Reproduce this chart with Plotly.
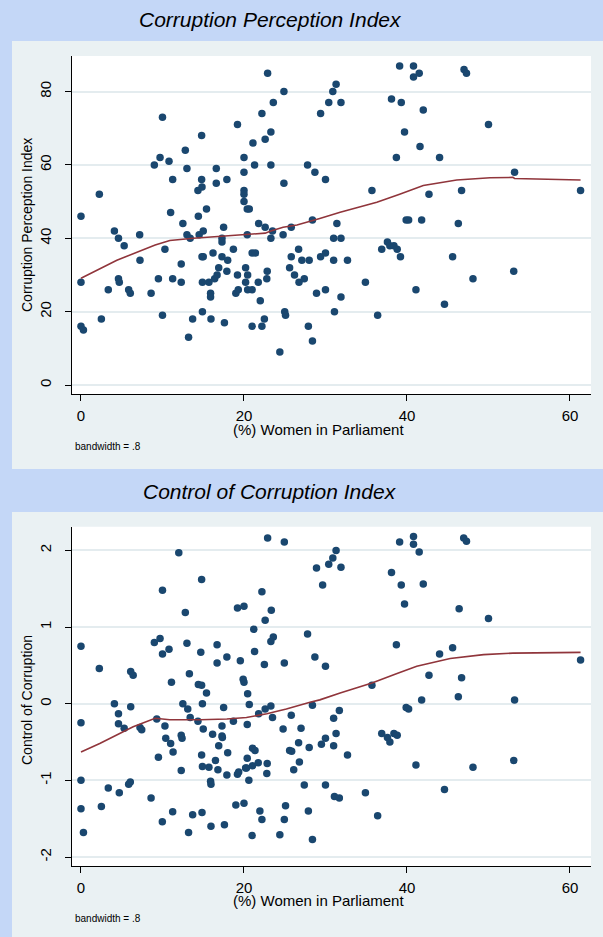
import plotly.graph_objects as go

W, H = 603, 937

# ---------------- data: Corruption Perception Index panel ----------------
women_cpi = [0, 2.25, 4.1, 7.2, 9.0, 9.7, 10.0, 10.8, 11.25, 11.0, 12.5, 12.8, 13.0, 13.0, 14.4,
             14.35, 14.5, 14.8, 14.85, 14.8, 15.0, 15.4, 16.6, 16.6, 17.5, 17.9, 19.2, 20.0, 20.0,
             20.0, 20.0, 20.0, 20.4, 20.65, 20.4, 21.1, 21.3, 21.8, 22.2, 22.6, 22.6, 22.9, 23.3,
             23.3, 23.5, 23.6, 24.9, 24.9, 24.8, 25.8, 27.8, 28.7, 28.4, 29.4,
             31.3, 30.9, 30.4, 31.9, 30.0, 31.4, 35.7, 38.1, 39.1, 39.3, 39.7, 38.7, 40.8, 41.5,
             40.8, 42.0, 41.6, 44.0, 42.7, 39.9, 40.2, 41.8, 46.3, 46.7, 47.0, 47.3, 50.0, 53.2, 61.3,
             4.6, 0, 0, 0.3, 2.5, 3.35, 4.6, 4.7, 5.3, 5.85, 6.05, 7.24, 8.6, 9.5, 10.0, 10.3, 11.25,
             12.3, 12.3, 13.2, 13.7, 13.4, 14.85, 15.0, 14.9, 14.9, 15.7, 15.9, 15.9, 15.95, 16.2,
             16.4, 16.7, 16.9, 17.3, 17.3, 17.3, 18.0, 17.9, 17.6, 18.7, 19.2, 19.0, 19.3, 20.2, 20.2,
             20.45, 20.45, 21.0, 21.0, 21.4, 21.0, 21.75, 22.0, 22.2, 22.5, 22.8, 22.85, 23.3, 24.4,
             25.0, 25.1, 25.8, 25.6, 26.2, 26.7, 26.75, 27.4, 27.1, 28.0, 27.9, 28.4, 28.9, 29.4,
             31.0, 31.9, 31.0, 30.0, 32.7, 30.0, 31.9, 31.1, 34.9, 36.4, 36.9, 37.6, 37.9, 38.4,
             38.8, 39.2, 41.1, 44.6, 45.6, 48.1, 53.1]
cpi = [46, 52, 42, 41, 60, 62, 73, 61, 56, 47, 44, 64, 59, 41, 46, 53, 41, 56, 54, 68, 42, 48, 59,
       55, 43, 56, 71, 62, 58, 53, 52, 50, 48, 48, 41, 66, 60, 44, 74, 67, 43, 85, 69, 60, 42, 77,
       80, 55, 41, 43, 60, 58, 45, 74,
       82, 80, 77, 77, 56, 44, 53, 78, 87, 77, 69, 62, 87, 85, 84, 75, 65, 62, 52, 45, 45, 45, 44,
       53, 86, 85, 71, 58, 53,
       40, 28, 16, 15, 18, 26, 29, 28, 38, 26, 25, 34, 25, 29, 19, 37, 29, 33, 28, 13, 18, 40, 35,
       35, 20, 28, 28, 25, 24, 18, 36, 29, 30, 32, 40, 39, 35, 34, 31, 17, 37, 30, 25, 26, 32, 28,
       30, 26, 26, 36, 36, 16, 28, 23, 16, 18, 29, 31, 40, 9, 20, 19, 35, 32, 30, 37, 28, 29, 34,
       34, 16, 12, 25, 35,
       40, 40, 34, 36, 34, 26, 24, 20, 28, 19, 37, 39, 38, 38, 37, 35, 26, 22, 35, 29, 31]

lowess_cpi_x = [0, 4.4, 9.1, 10.9, 13.8, 17.1, 20.3, 22.6, 23.3, 24.8, 26.5, 28.2, 29.3, 31.8,
                36.3, 39.1, 42.0, 46.1, 50.2, 53.0, 53.2, 61.3]
lowess_cpi_y = [29.1, 34.0, 38.2, 39.4, 40.0, 40.5, 40.9, 41.4, 42.0, 43.0, 43.6, 44.6, 45.4, 47.1,
                49.8, 52.0, 54.4, 55.9, 56.5, 56.6, 56.3, 55.9]

# ---------------- data: Control of Corruption panel ----------------
women_cc = [0, 2.25, 6.1, 6.4, 9.0, 9.7, 10.0, 10.0, 10.8, 11.1, 12.0, 12.8, 13.0, 13.3, 14.8, 14.7,
            14.4, 14.8, 15.4, 16.7, 16.7, 17.9, 19.2, 20.0, 19.55, 19.9, 20.0, 20.45, 21.2, 21.3,
            22.2, 22.6, 22.5, 22.9, 23.35, 23.6, 23.3, 24.95, 24.95, 27.8, 28.7, 28.9,
            0, 0, 0, 0.3, 2.5, 3.35, 4.1, 4.6, 4.6, 5.3, 4.7, 5.85, 6.05, 6.1, 7.24, 7.45, 8.6,
            12.5, 14.9, 20.65, 17.5, 13.1, 13.4, 9.3, 21.8, 22.6, 23.3, 23.5, 25.8, 28.4, 31.0, 31.7,
            14.35, 10.3, 18.7, 17.3, 20.4, 15.0, 16.15, 17.3, 17.35, 12.3, 12.4, 10.4, 11.0, 11.3,
            16.9, 18.0, 14.8, 9.5, 24.8, 27.0, 26.7, 28.0, 25.6, 25.85, 21.05, 21.35, 30.0, 29.5,
            31.3, 31.0, 20.4, 16.5, 14.9, 15.7, 16.8, 17.9, 12.3, 15.9, 15.95, 19.2, 19.35, 20.2,
            20.3, 20.6, 21.05, 21.75, 22.85, 22.8, 26.1, 26.8, 27.4, 30.0, 31.1, 31.7,
            11.25, 13.7, 14.85, 9.98, 13.2, 15.95, 17.6, 19.0, 20.0, 21.0, 21.95, 22.2, 24.4, 25.1,
            24.95, 27.9, 28.4,
            29.65, 30.4, 30.9, 31.3, 31.9, 30.0, 35.7, 38.1, 39.1, 39.3, 39.7, 38.7, 40.8, 40.8,
            41.5, 42.0, 44.0, 45.6, 42.7, 46.7, 41.8, 46.3, 46.4, 46.96, 47.3, 50.0, 53.2, 61.3,
            32.7, 34.9, 36.4, 36.9, 37.6, 37.9, 38.4, 38.8, 39.9, 40.2, 41.1, 44.6, 48.1, 53.1]
cc = [0.75, 0.46, 0.42, 0.37, 0.80, 0.85, 1.48, 0.65, 0.71, 0.28, 1.97, 1.19, 0.79, 0.39, 1.62,
      0.67, 0.25, 0.24, 0.14, 0.77, 0.53, 0.61, 1.25, 1.27, 0.56, 0.32, 0.28, 0.13, 0.97, 0.68,
      1.46, 1.09, 0.51, 2.16, 1.22, 0.87, 0.81, 2.11, 0.53, 0.91, 0.61, 1.77,
      -0.25, -1.0, -1.37, -1.68, -1.34, -1.10, 0.0, -0.13, -0.26, -0.32, -1.16, -1.05, -1.02,
      -0.04, -0.31, -0.34, -1.23,
      0.0, 0.0, -0.01, -0.05, -0.07, -0.18, -0.2, -0.13, -0.07, -0.03, -0.18, -0.15, -0.02,
      -0.19, -0.09, -0.23, -0.29, -0.23, -0.29, -0.27, -0.33, -0.40, -0.42, -0.44, -0.41, -0.45,
      -0.45, -0.52, -0.63, -0.55, -0.64, -0.67, -0.70, -0.33, -0.32, -0.51, -0.57, -0.61, -0.62,
      -0.58, -0.61, -0.45, -0.53, -0.39, -0.55, -0.71, -0.74, -0.82, -0.83, -0.86, -0.93, -0.87,
      -1.01, -1.05, -0.92, -0.89, -0.84, -0.84, -1.0, -0.81, -0.77, -0.78, -0.91, -0.86, -0.76,
      -1.06, -1.06, -1.21, -1.23,
      -1.41, -1.45, -1.42, -1.54, -1.68, -1.6, -1.58, -1.32, -1.30, -1.72, -1.40, -1.51, -1.71,
      -1.33, -1.51, -1.40, -1.77,
      1.55, 1.82, 1.90, 2.0, 1.78, 0.49, 0.24, 1.71, 2.11, 1.55, 1.30, 0.77, 2.18, 2.08, 1.98,
      1.56, 0.65, 0.73, 0.37, 0.34, 0.05, 0.09, 1.24, 2.16, 2.12, 1.11, 0.05, 0.57,
      -0.67, -1.16, -1.46, -0.39, -0.44, -0.50, -0.39, -0.41, -0.05, -0.07, -0.80, -1.12, -0.83,
      -0.74]

lowess_cc_x = [0, 2.3, 6.4, 9.1, 10.9, 14.6, 17.9, 20.3, 22.8, 25.2, 28.1, 29.3, 31.8, 35.7,
               38.7, 41.2, 45.3, 49.4, 53.0, 61.3]
lowess_cc_y = [-0.63, -0.52, -0.30, -0.19, -0.21, -0.21, -0.20, -0.18, -0.13, -0.07, 0.02, 0.05,
               0.14, 0.27, 0.39, 0.49, 0.59, 0.64, 0.66, 0.67]

x_ticks = [0, 20, 40, 60]
cpi_ticks = [0, 20, 40, 60, 80]
cc_ticks = [-2, -1, 0, 1, 2]

titles = ["Corruption Perception Index", "Control of Corruption Index"]
ytitles = ["Corruption Perception Index", "Control of Corruption"]
xtitle = "(%) Women in Parliament"
note = "bandwidth = .8"

# ---------------- styling ----------------
FONT = "Liberation Sans, Arial, Helvetica, sans-serif"
DOT = "#1a476f"
LINE = "#90353b"
FRAME = "#eaf1f3"
GRID = "#e4ecef"
SLIDE = "#c4d7f7"


def px(x):
    return x / W


def py(y):
    return 1 - y / H


fig = go.Figure()

fig.add_trace(go.Scatter(x=women_cpi, y=cpi, mode="markers", xaxis="x", yaxis="y",
                         marker=dict(color=DOT, size=7.5, line=dict(width=0)), showlegend=False))
fig.add_trace(go.Scatter(x=lowess_cpi_x, y=lowess_cpi_y, mode="lines", xaxis="x", yaxis="y",
                         line=dict(color=LINE, width=1.6), showlegend=False))
fig.add_trace(go.Scatter(x=women_cc, y=cc, mode="markers", xaxis="x2", yaxis="y2",
                         marker=dict(color=DOT, size=7.5, line=dict(width=0)), showlegend=False))
fig.add_trace(go.Scatter(x=lowess_cc_x, y=lowess_cc_y, mode="lines", xaxis="x2", yaxis="y2",
                         line=dict(color=LINE, width=1.6), showlegend=False))

XL, XR = 71.7, 591
TOP1, BOT1 = 56, 394
TOP2, BOT2 = 526.7, 866

xdom = [px(XL), px(XR)]
xcommon = dict(range=[-1.14, 62.58], tickvals=x_ticks, ticks="outside", ticklen=6, tickwidth=1,
               tickcolor="black", showline=True, linecolor="black", linewidth=1.2,
               showgrid=False, zeroline=False, automargin=False,
               tickfont=dict(family=FONT, size=15, color="black"),
               ticklabelstandoff=2, fixedrange=True)
ycommon = dict(ticks="outside", ticklen=6, tickwidth=1, tickcolor="black", tickangle=-90,
               showline=True, linecolor="black", linewidth=1.2, showgrid=True, gridcolor=GRID,
               gridwidth=2, zeroline=False, automargin=False,
               tickfont=dict(family=FONT, size=15, color="black"),
               ticklabelstandoff=8, fixedrange=True)

fig.update_layout(
    template="none",
    width=W, height=H,
    margin=dict(l=0, r=0, t=0, b=0, autoexpand=False),
    paper_bgcolor=SLIDE,
    plot_bgcolor="white",
    xaxis=dict(domain=xdom, anchor="y", **xcommon),
    yaxis=dict(domain=[py(BOT1), py(TOP1)], anchor="x", range=[-2.45, 89.7], tickvals=cpi_ticks,
               **ycommon),
    xaxis2=dict(domain=xdom, anchor="y2", **xcommon),
    yaxis2=dict(domain=[py(BOT2), py(TOP2)], anchor="x2", range=[-2.117, 2.309],
                tickvals=cc_ticks, ticktext=[str(v) for v in cc_ticks], **ycommon),
    shapes=[
        dict(type="rect", xref="paper", yref="paper", x0=px(12), x1=1, y0=py(469), y1=py(41),
             fillcolor=FRAME, line=dict(width=0), layer="below"),
        dict(type="rect", xref="paper", yref="paper", x0=px(12), x1=1, y0=py(937), y1=py(512),
             fillcolor=FRAME, line=dict(width=0), layer="below"),
        dict(type="rect", xref="paper", yref="paper", x0=px(XL), x1=px(XR), y0=py(BOT1),
             y1=py(TOP1), fillcolor="#ffffff", line=dict(width=0), layer="below"),
        dict(type="rect", xref="paper", yref="paper", x0=px(XL), x1=px(XR), y0=py(BOT2),
             y1=py(TOP2), fillcolor="#ffffff", line=dict(width=0), layer="below"),
    ],
)

ann = []
for ty, t in zip([20, 491.5], titles):
    ann.append(dict(x=px(270), y=py(ty), xref="paper", yref="paper", text="<i>" + t + "</i>",
                    showarrow=False, xanchor="center", yanchor="middle",
                    font=dict(family=FONT, size=21, color="black")))
for cy, t in zip([225, 700], ytitles):
    ann.append(dict(x=px(27), y=py(cy), xref="paper", yref="paper", text=t, textangle=-90,
                    showarrow=False, xanchor="center", yanchor="middle",
                    font=dict(family=FONT, size=14, color="black")))
for cy in [429, 900]:
    ann.append(dict(x=px(318), y=py(cy), xref="paper", yref="paper", text=xtitle,
                    showarrow=False, xanchor="center", yanchor="middle",
                    font=dict(family=FONT, size=15, color="black")))
for cy in [446.7, 918.3]:
    ann.append(dict(x=px(73), y=py(cy), xref="paper", yref="paper", text=note,
                    showarrow=False, xanchor="left", yanchor="middle",
                    font=dict(family=FONT, size=10, color="black")))
fig.update_layout(annotations=ann)

fig.write_html(
    "out.html",
    config={"displayModeBar": False},
    post_script="document.body.style.margin='0';document.body.style.padding='0';"
                "document.body.style.overflow='hidden';",
)
